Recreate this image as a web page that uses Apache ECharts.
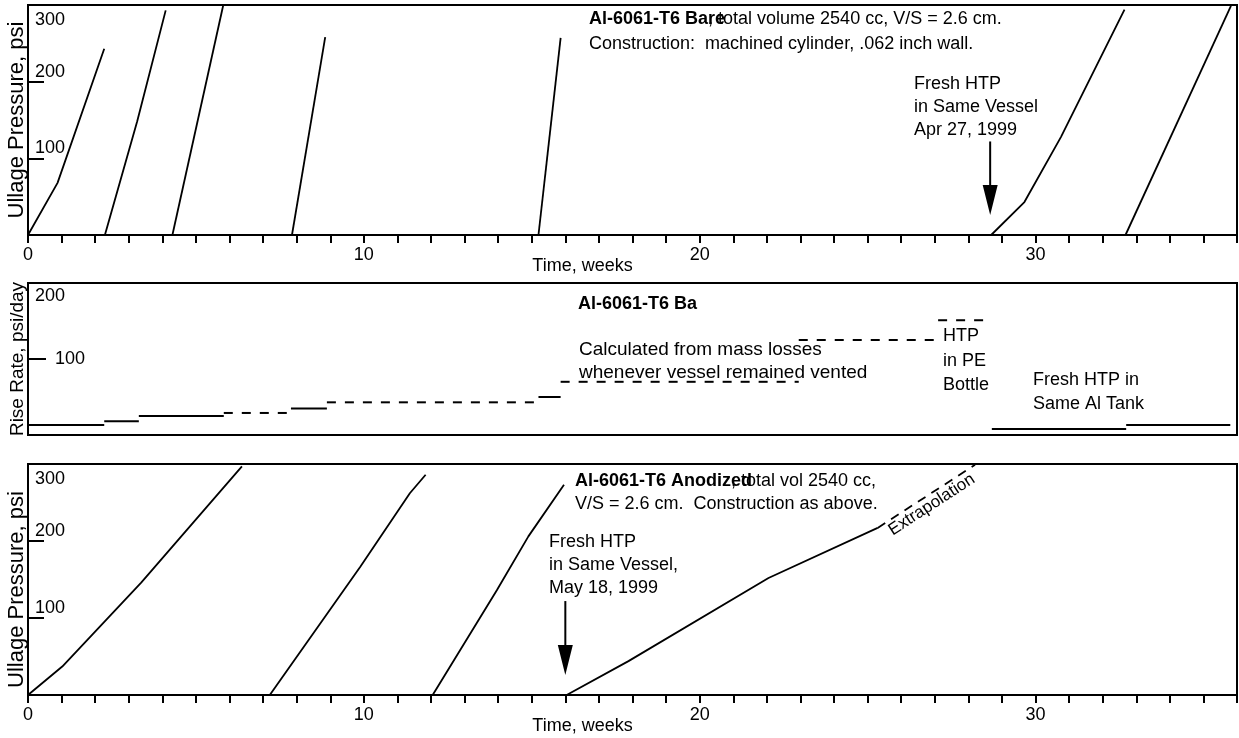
<!DOCTYPE html>
<html><head><meta charset="utf-8">
<script src="https://cdn.jsdelivr.net/npm/echarts@6/dist/echarts.min.js"></script>
<style>html,body{margin:0;padding:0;background:#fff}#c{width:1239px;height:738px}</style>
</head><body><div id="c"></div>
<script>
// ---------- data ----------
const xTickLabels = [0, 10, 20, 30];
const pressureTicks = [100, 200, 300];
const rateTicks = [100, 200];

// Top panel: Al-6061-T6 bare, ullage pressure runs [week, psi]
const bareRun1 = [[0,0],[0.88,68],[2.27,243]];
const bareRun2 = [[2.29,0],[3.25,148],[4.10,293]];
const bareRun3 = [[4.30,0],[5.81,299]];
const bareRun4 = [[7.86,0],[8.85,258]];
const bareRun5 = [[15.2,0],[15.86,257]];
const bareRun6 = [[28.68,0],[29.67,43],[30.76,128],[32.65,294]];
const bareRun7 = [[32.68,0],[35.82,299]];
const bareRuns = [bareRun1, bareRun2, bareRun3, bareRun4, bareRun5, bareRun6, bareRun7];

// Middle panel: rise rate segments [startWeek, endWeek, psi/day]
const rateSolid  = [[0,2.27,13],[2.27,3.3,18],[3.3,5.83,25],[7.83,8.9,35],[15.2,15.86,50],[28.7,32.7,8],[32.7,35.8,13]];
const rateDashed = [[5.83,7.83,29],[8.9,15.2,43],[15.86,22.95,70],[22.95,27.1,125],[27.1,28.6,151]];

// Bottom panel: Al-6061-T6 anodized runs [week, psi]
const anodRun1 = [[0,0],[1.02,37],[3.37,146],[6.37,297]];
const anodRun2 = [[7.2,0],[9.9,167],[11.37,262],[11.84,286]];
const anodRun3 = [[12.05,0],[13.96,136],[14.9,206],[15.96,273]];
const anodRun4 = [[16.04,0],[17.88,44],[22.05,152],[25.3,217]];
const anodExtrap = [[25.3,217],[28.2,299]];
const anodRuns = [anodRun1, anodRun2, anodRun3, anodRun4];

// Arrows [week, psiTop, psiTip]
const arrowTop = [28.65, 122, 26];
const arrowBottom = [16.0, 122, 26];

// ---------- chart ----------
const FONT = '"Liberation Sans", Arial, sans-serif';
const FS = 18;
const chart = echarts.init(document.getElementById('c'));

function xAxisCfg(gi, showLabels) {
  return {
    gridIndex: gi, type: 'value', min: 0, max: 36, interval: 1,
    axisLine: { show: true, lineStyle: { color: '#000', width: 2 } },
    axisTick: { show: showLabels, length: 8, lineStyle: { color: '#000', width: 2 } },
    axisLabel: { show: showLabels, color: '#000', fontSize: FS, fontFamily: FONT, margin: 11,
      formatter: v => xTickLabels.includes(v) ? String(v) : '' },
    splitLine: { show: false },
    name: showLabels ? 'Time, weeks' : '', nameLocation: 'middle', nameGap: 22, nameMoveOverlap: false,
    nameTextStyle: { color: '#000', fontSize: FS, fontFamily: FONT, padding: [0, 100, 0, 0] }
  };
}
function pressureY(gi, namePad) {
  return {
    gridIndex: gi, type: 'value', min: 0, max: 300, interval: 100,
    axisLine: { show: true, lineStyle: { color: '#000', width: 2 } },
    axisTick: { show: true, inside: true, length: 16, lineStyle: { color: '#000', width: 2 } },
    axisLabel: { inside: true, margin: 7, color: '#000', fontSize: FS, fontFamily: FONT, verticalAlign: 'middle', align: 'left',
      formatter: v => v === 300 ? '{dn|300}' : (pressureTicks.includes(v) ? '{up|' + v + '}' : ''),
      rich: { up: { padding: [0, 0, 20, 0], fontSize: FS, fontFamily: FONT, color: '#000' },
              dn: { padding: [30, 0, 0, 0], fontSize: FS, fontFamily: FONT, color: '#000' } } },
    splitLine: { show: false },
    name: 'Ullage Pressure, psi', nameLocation: 'middle', nameRotate: 90, nameGap: 0, nameMoveOverlap: false,
    nameTextStyle: { color: '#000', fontSize: 22, fontFamily: FONT, padding: namePad }
  };
}

const series = [];
const lineBase = { type: 'line', symbol: 'none', silent: true, animation: false };
bareRuns.forEach(d => series.push(Object.assign({}, lineBase, { xAxisIndex: 0, yAxisIndex: 0, data: d, lineStyle: { color: '#000', width: 1.8 } })));
rateSolid.forEach(s => series.push(Object.assign({}, lineBase, { xAxisIndex: 1, yAxisIndex: 1, data: [[s[0], s[2]], [s[1], s[2]]], lineStyle: { color: '#000', width: 2 } })));
rateDashed.forEach(s => series.push(Object.assign({}, lineBase, { xAxisIndex: 1, yAxisIndex: 1, data: [[s[0], s[2]], [s[1], s[2]]], lineStyle: { color: '#000', width: 2, type: [9, 9] } })));
anodRuns.forEach(d => series.push(Object.assign({}, lineBase, { xAxisIndex: 2, yAxisIndex: 2, data: d, lineStyle: { color: '#000', width: 1.8 } })));
series.push(Object.assign({}, lineBase, { xAxisIndex: 2, yAxisIndex: 2, data: anodExtrap, lineStyle: { color: '#000', width: 1.8, type: [9, 7] } }));

const gridBase = { left: 28, width: 1209, show: true, borderColor: '#000', borderWidth: 2, backgroundColor: 'transparent', containLabel: false, outerBoundsMode: 'none' };
chart.setOption({
  animation: false,
  backgroundColor: '#fff',
  grid: [
    Object.assign({}, gridBase, { top: 5, height: 230 }),
    Object.assign({}, gridBase, { top: 283, height: 152 }),
    Object.assign({}, gridBase, { top: 464, height: 231 })
  ],
  xAxis: [xAxisCfg(0, true), xAxisCfg(1, false), xAxisCfg(2, true)],
  yAxis: [
    pressureY(0, [0, 0, 0, 0]),
    {
      gridIndex: 1, type: 'value', min: 0, max: 200, interval: 100,
      axisLine: { show: true, lineStyle: { color: '#000', width: 2 } },
      axisTick: { show: true, inside: true, length: 18, lineStyle: { color: '#000', width: 2 } },
      axisLabel: { inside: true, margin: 7, color: '#000', fontSize: FS, fontFamily: FONT, verticalAlign: 'middle', align: 'left',
        formatter: v => v === 200 ? '{dn|200}' : (rateTicks.includes(v) ? '{rt|' + v + '}' : ''),
        rich: { rt: { padding: [0, 0, 0, 20], fontSize: FS, fontFamily: FONT, color: '#000' },
                dn: { padding: [26, 0, 0, 0], fontSize: FS, fontFamily: FONT, color: '#000' } } },
      splitLine: { show: false },
      name: 'Rise Rate, psi/day', nameLocation: 'middle', nameRotate: 90, nameGap: 1, nameMoveOverlap: false,
      nameTextStyle: { color: '#000', fontSize: 19, fontFamily: FONT }
    },
    pressureY(2, [0, 20, 0, 0])
  ],
  series: series
});

// ---------- annotations ----------
const ctx = document.createElement('canvas').getContext('2d');
function tw(t, bold, size) { ctx.font = (bold ? 'bold ' : '') + size + 'px ' + FONT; return ctx.measureText(t).width; }
function txt(text, x, y, opts) {
  opts = opts || {};
  return { type: 'text', x: x, y: y, rotation: opts.rotation || 0, z: 100,
    style: { text: text, fill: '#000', font: (opts.bold ? 'bold ' : '') + (opts.size || FS) + 'px ' + FONT,
      verticalAlign: 'middle', align: opts.align || 'left' } };
}
const g = [];
// top title
g.push(txt('Al-6061-T6 Bare', 589, 19, { bold: true }));
g.push(txt(', total volume 2540 cc, V/S = 2.6 cm.', 589 + tw('Al-6061-T6 Ba', true, FS), 19));
g.push(txt('Construction:  machined cylinder, .062 inch wall.', 589, 44));
g.push(txt('Fresh HTP', 914, 84));
g.push(txt('in Same Vessel', 914, 107));
g.push(txt('Apr 27, 1999', 914, 130));
// middle
g.push(txt('Al-6061-T6 Ba', 578, 304, { bold: true }));
g.push(txt('Calculated from mass losses', 579, 350, { size: 19 }));
g.push(txt('whenever vessel remained vented', 579, 373, { size: 19 }));
g.push(txt('HTP', 943, 336));
g.push(txt('in PE', 943, 361));
g.push(txt('Bottle', 943, 385));
g.push(txt('Fresh HTP in', 1033, 380));
g.push(txt('Same Al Tank', 1033, 404));
// bottom
g.push(txt('Al-6061-T6 Anodized', 575, 481, { bold: true }));
g.push(txt(', total vol 2540 cc,', 575 + tw('Al-6061-T6 Anodiz', true, FS), 481));
g.push(txt('V/S = 2.6 cm.  Construction as above.', 575, 504));
g.push(txt('Fresh HTP', 549, 542));
g.push(txt('in Same Vessel,', 549, 565));
g.push(txt('May 18, 1999', 549, 588));

function arrow(gi, a) {
  const p0 = chart.convertToPixel({ gridIndex: gi }, [a[0], a[1]]);
  const p1 = chart.convertToPixel({ gridIndex: gi }, [a[0], a[2]]);
  const hh = 30, hw = 7.5;
  g.push({ type: 'line', z: 100, shape: { x1: p0[0], y1: p0[1], x2: p1[0], y2: p1[1] - hh + 2 }, style: { stroke: '#000', lineWidth: 2 } });
  g.push({ type: 'polygon', z: 100, shape: { points: [[p1[0] - hw, p1[1] - hh], [p1[0] + hw, p1[1] - hh], [p1[0], p1[1]]] }, style: { fill: '#000' } });
}
arrow(0, arrowTop);
arrow(2, arrowBottom);

// Extrapolation label along the dashed segment
(function () {
  const pa = chart.convertToPixel({ gridIndex: 2 }, anodExtrap[0]);
  const pb = chart.convertToPixel({ gridIndex: 2 }, anodExtrap[1]);
  const th = Math.atan2(-(pb[1] - pa[1]), pb[0] - pa[0]);
  const mx = (pa[0] + pb[0]) / 2, my = (pa[1] + pb[1]) / 2;
  const off = 10;
  g.push(txt('Extrapolation', mx + Math.sin(th) * off, my + Math.cos(th) * off, { rotation: th, align: 'center', size: 17 }));
})();

chart.setOption({ graphic: { elements: g } });
</script></body></html>
